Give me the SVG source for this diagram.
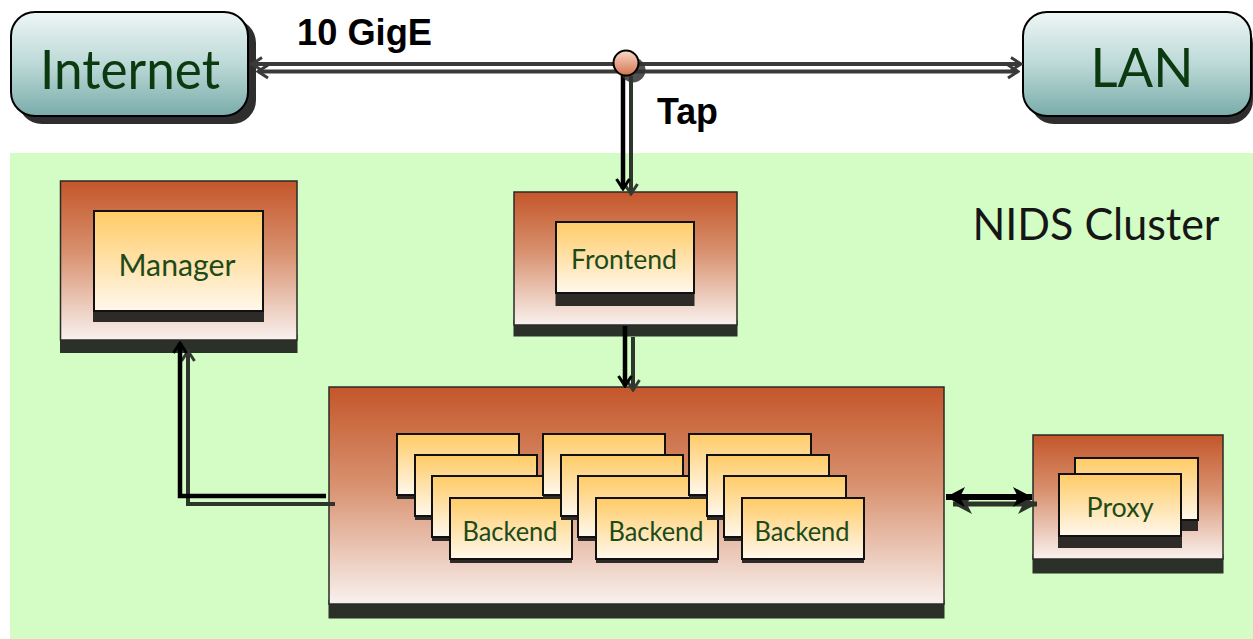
<svg xmlns="http://www.w3.org/2000/svg" width="1253" height="639" viewBox="0 0 1253 639">
  <defs>
    <linearGradient id="gCloud" x1="0" y1="0" x2="0" y2="1">
      <stop offset="0" stop-color="#eef6f5"/>
      <stop offset="0.5" stop-color="#bcd9d7"/>
      <stop offset="1" stop-color="#79acaa"/>
    </linearGradient>
    <linearGradient id="gOuter" x1="0" y1="0" x2="0" y2="1">
      <stop offset="0" stop-color="#c4562a"/>
      <stop offset="0.45" stop-color="#d8916f"/>
      <stop offset="1" stop-color="#f9f1ee"/>
    </linearGradient>
    <linearGradient id="gCard" x1="0" y1="0" x2="0" y2="1">
      <stop offset="0" stop-color="#ffcb66"/>
      <stop offset="1" stop-color="#fff8ec"/>
    </linearGradient>
    <linearGradient id="gTap" x1="0" y1="0" x2="0" y2="1">
      <stop offset="0" stop-color="#fbd8c8"/>
      <stop offset="1" stop-color="#d27550"/>
    </linearGradient>
    <marker id="chevK" viewBox="-12 -8 14 16" refX="0" refY="0" markerWidth="14" markerHeight="16" markerUnits="userSpaceOnUse" orient="auto-start-reverse">
      <path d="M-10,-6.5 L0,0 L-10,6.5" fill="none" stroke="#000" stroke-width="3"/>
    </marker>
    <marker id="chevG" viewBox="-12 -8 14 16" refX="0" refY="0" markerWidth="14" markerHeight="16" markerUnits="userSpaceOnUse" orient="auto-start-reverse">
      <path d="M-10,-6.5 L0,0 L-10,6.5" fill="none" stroke="#333a33" stroke-width="3"/>
    </marker>
    <marker id="chevT" viewBox="-12 -8 14 16" refX="0" refY="0" markerWidth="14" markerHeight="16" markerUnits="userSpaceOnUse" orient="auto-start-reverse">
      <path d="M-10,-6.5 L0,0 L-10,6.5" fill="none" stroke="#3a3a3a" stroke-width="3"/>
    </marker>
    <marker id="triK" viewBox="-20 -11 21 22" refX="0" refY="0" markerWidth="21" markerHeight="22" markerUnits="userSpaceOnUse" orient="auto-start-reverse">
      <path d="M-19,-10 L0,0 L-19,10 L-14,0 Z" fill="#000"/>
    </marker>
    <marker id="triG" viewBox="-20 -11 21 22" refX="0" refY="0" markerWidth="21" markerHeight="22" markerUnits="userSpaceOnUse" orient="auto-start-reverse">
      <path d="M-19,-10 L0,0 L-19,10 L-14,0 Z" fill="#2c332b"/>
    </marker>
  </defs>
  <style>
    .cloud { fill: url(#gCloud); stroke: #000; stroke-width: 2; }
    .cloudShadow { fill: #2e2e2e; }
    .outer { fill: url(#gOuter); stroke: #2a2a2a; stroke-width: 1.5; }
    .outerShadow { fill: #2b3129; stroke: #2b3129; stroke-width: 1; }
    .card { fill: url(#gCard); stroke: #111; stroke-width: 2; }
    .cardShadow { fill: #2e2a28; }
    .bigLabel { font-family: Lato, "Open Sans", "DejaVu Sans", sans-serif; fill: #0c3a10; text-anchor: middle; }
    .label { font-family: Lato, "Open Sans", "DejaVu Sans", sans-serif; fill: #1d4a17; text-anchor: middle; }
    .bold { font-family: "Liberation Sans", Arial, sans-serif; font-weight: bold; fill: #000; }
    .wireK { fill: none; stroke: #000; stroke-width: 4.5; }
    .wireG { fill: none; stroke: #2e352d; stroke-width: 4; }
    .wireT { fill: none; stroke: #3a3a3a; stroke-width: 4; }
    .wideK { fill: none; stroke: #000; stroke-width: 6; }
    .wideG { fill: none; stroke: #2c332b; stroke-width: 5; }
  </style>

  <!-- page background and cluster area -->
  <rect x="0" y="0" width="1253" height="639" fill="#ffffff"/>
  <rect id="cluster" x="10" y="153" width="1243" height="486" fill="#d3fdc5"/>
  <text class="bigLabel" x="1096" y="240" font-size="44" textLength="247" lengthAdjust="spacingAndGlyphs" style="fill:#161616">NIDS Cluster</text>

  <!-- Internet -->
  <g id="internet">
    <rect class="cloudShadow" x="18" y="19" width="238" height="105" rx="24"/>
    <rect class="cloud" x="11" y="12" width="237" height="104" rx="24"/>
    <text class="bigLabel" x="130" y="89" font-size="55" textLength="180" lengthAdjust="spacingAndGlyphs">Internet</text>
  </g>

  <!-- LAN -->
  <g id="lan">
    <rect class="cloudShadow" x="1030" y="19" width="223" height="105" rx="24"/>
    <rect class="cloud" x="1023" y="12" width="228" height="104" rx="24"/>
    <text class="bigLabel" x="1142" y="87" font-size="55" textLength="103" lengthAdjust="spacingAndGlyphs">LAN</text>
  </g>

  <!-- Manager -->
  <g id="manager">
    <rect class="outerShadow" x="60.5" y="335" width="236.5" height="17.5"/>
    <rect class="outer" x="60.5" y="181" width="236.5" height="159"/>
    <rect class="cardShadow" x="93" y="300" width="171" height="22"/>
    <rect class="card" x="94" y="211" width="169" height="100"/>
    <text class="label" x="177" y="276" font-size="31" textLength="117" lengthAdjust="spacingAndGlyphs">Manager</text>
  </g>

  <!-- Frontend -->
  <g id="frontend">
    <rect class="outerShadow" x="514" y="320" width="223" height="16"/>
    <rect class="outer" x="514" y="192" width="223" height="133"/>
    <rect class="cardShadow" x="555.5" y="285" width="139" height="21"/>
    <rect class="card" x="556" y="222" width="138" height="71"/>
    <text class="label" x="624" y="269" font-size="26" textLength="106" lengthAdjust="spacingAndGlyphs">Frontend</text>
  </g>

  <!-- Backends -->
  <g id="backends">
    <rect class="outerShadow" x="329" y="600" width="615" height="18"/>
    <rect class="outer" x="329" y="387" width="615" height="217"/>
    <!-- column 1 -->
    <g id="backend-1">
      <rect class="cardShadow" x="397" y="486" width="122" height="13"/>
      <rect class="card" x="397" y="434" width="122" height="61"/>
      <rect class="cardShadow" x="415" y="507" width="122" height="13"/>
      <rect class="card" x="415" y="455" width="122" height="61"/>
      <rect class="cardShadow" x="432" y="528" width="122" height="13"/>
      <rect class="card" x="432" y="476" width="122" height="61"/>
      <rect class="cardShadow" x="450" y="550" width="122" height="13"/>
      <rect class="card" x="450" y="498" width="122" height="61"/>
      <text class="label" x="510" y="541" font-size="26" textLength="95" lengthAdjust="spacingAndGlyphs">Backend</text>
    </g>
    <!-- column 2 -->
    <g id="backend-2">
      <rect class="cardShadow" x="543" y="486" width="122" height="13"/>
      <rect class="card" x="543" y="434" width="122" height="61"/>
      <rect class="cardShadow" x="561" y="507" width="122" height="13"/>
      <rect class="card" x="561" y="455" width="122" height="61"/>
      <rect class="cardShadow" x="578" y="528" width="122" height="13"/>
      <rect class="card" x="578" y="476" width="122" height="61"/>
      <rect class="cardShadow" x="596" y="550" width="122" height="13"/>
      <rect class="card" x="596" y="498" width="122" height="61"/>
      <text class="label" x="656" y="541" font-size="26" textLength="95" lengthAdjust="spacingAndGlyphs">Backend</text>
    </g>
    <!-- column 3 -->
    <g id="backend-3">
      <rect class="cardShadow" x="689" y="486" width="122" height="13"/>
      <rect class="card" x="689" y="434" width="122" height="61"/>
      <rect class="cardShadow" x="707" y="507" width="122" height="13"/>
      <rect class="card" x="707" y="455" width="122" height="61"/>
      <rect class="cardShadow" x="724" y="528" width="122" height="13"/>
      <rect class="card" x="724" y="476" width="122" height="61"/>
      <rect class="cardShadow" x="742" y="550" width="122" height="13"/>
      <rect class="card" x="742" y="498" width="122" height="61"/>
      <text class="label" x="802" y="541" font-size="26" textLength="95" lengthAdjust="spacingAndGlyphs">Backend</text>
    </g>
  </g>

  <!-- Proxy -->
  <g id="proxy">
    <rect class="outerShadow" x="1033" y="555" width="190" height="18"/>
    <rect class="outer" x="1033" y="435" width="190" height="124"/>
    <rect class="cardShadow" x="1074" y="518" width="124" height="13"/>
    <rect class="card" x="1075" y="458" width="123" height="62"/>
    <rect class="cardShadow" x="1058" y="534" width="124" height="14"/>
    <rect class="card" x="1059" y="474" width="122" height="62"/>
    <text class="label" x="1120" y="517" font-size="26" textLength="67" lengthAdjust="spacingAndGlyphs">Proxy</text>
  </g>

  <!-- connectors -->
  <g id="connectors">
    <!-- 10 GigE link between Internet and LAN -->
    <line class="wireT" x1="258" y1="71.5" x2="1018" y2="71.5" marker-start="url(#chevT)" marker-end="url(#chevT)"/>
    <line class="wireT" x1="252" y1="64" x2="1021" y2="64" marker-start="url(#chevT)" marker-end="url(#chevT)"/>
    <!-- tap feed into the frontend -->
    <line class="wireG" x1="631" y1="76" x2="631" y2="194" marker-end="url(#chevG)"/>
    <line class="wireK" x1="623" y1="74" x2="623" y2="189" marker-end="url(#chevK)"/>
    <!-- frontend to backends -->
    <line class="wireG" x1="633" y1="337" x2="633" y2="390" marker-end="url(#chevG)"/>
    <line class="wireK" x1="625" y1="326" x2="625" y2="386" marker-end="url(#chevK)"/>
    <!-- backends report to manager -->
    <path class="wireG" d="M335,504 L188,504 L188,351" marker-end="url(#chevG)"/>
    <path class="wireK" d="M326,496 L180,496 L180,343" marker-end="url(#chevK)"/>
    <!-- backends to proxy, both ways -->
    <line class="wideG" x1="953" y1="504" x2="1037" y2="504" marker-start="url(#triG)" marker-end="url(#triG)"/>
    <line class="wideK" x1="946" y1="497" x2="1032" y2="497" marker-start="url(#triK)" marker-end="url(#triK)"/>
  </g>

  <!-- tap point -->
  <g id="tap">
    <circle cx="633" cy="70" r="12.5" fill="#333" opacity="0.85"/>
    <circle cx="626" cy="63" r="12.5" fill="url(#gTap)" stroke="#000" stroke-width="2"/>
  </g>
  <text class="bold" x="297" y="45" font-size="36" textLength="135" lengthAdjust="spacingAndGlyphs">10 GigE</text>
  <text class="bold" x="657" y="124" font-size="36" textLength="61" lengthAdjust="spacingAndGlyphs">Tap</text>
</svg>
